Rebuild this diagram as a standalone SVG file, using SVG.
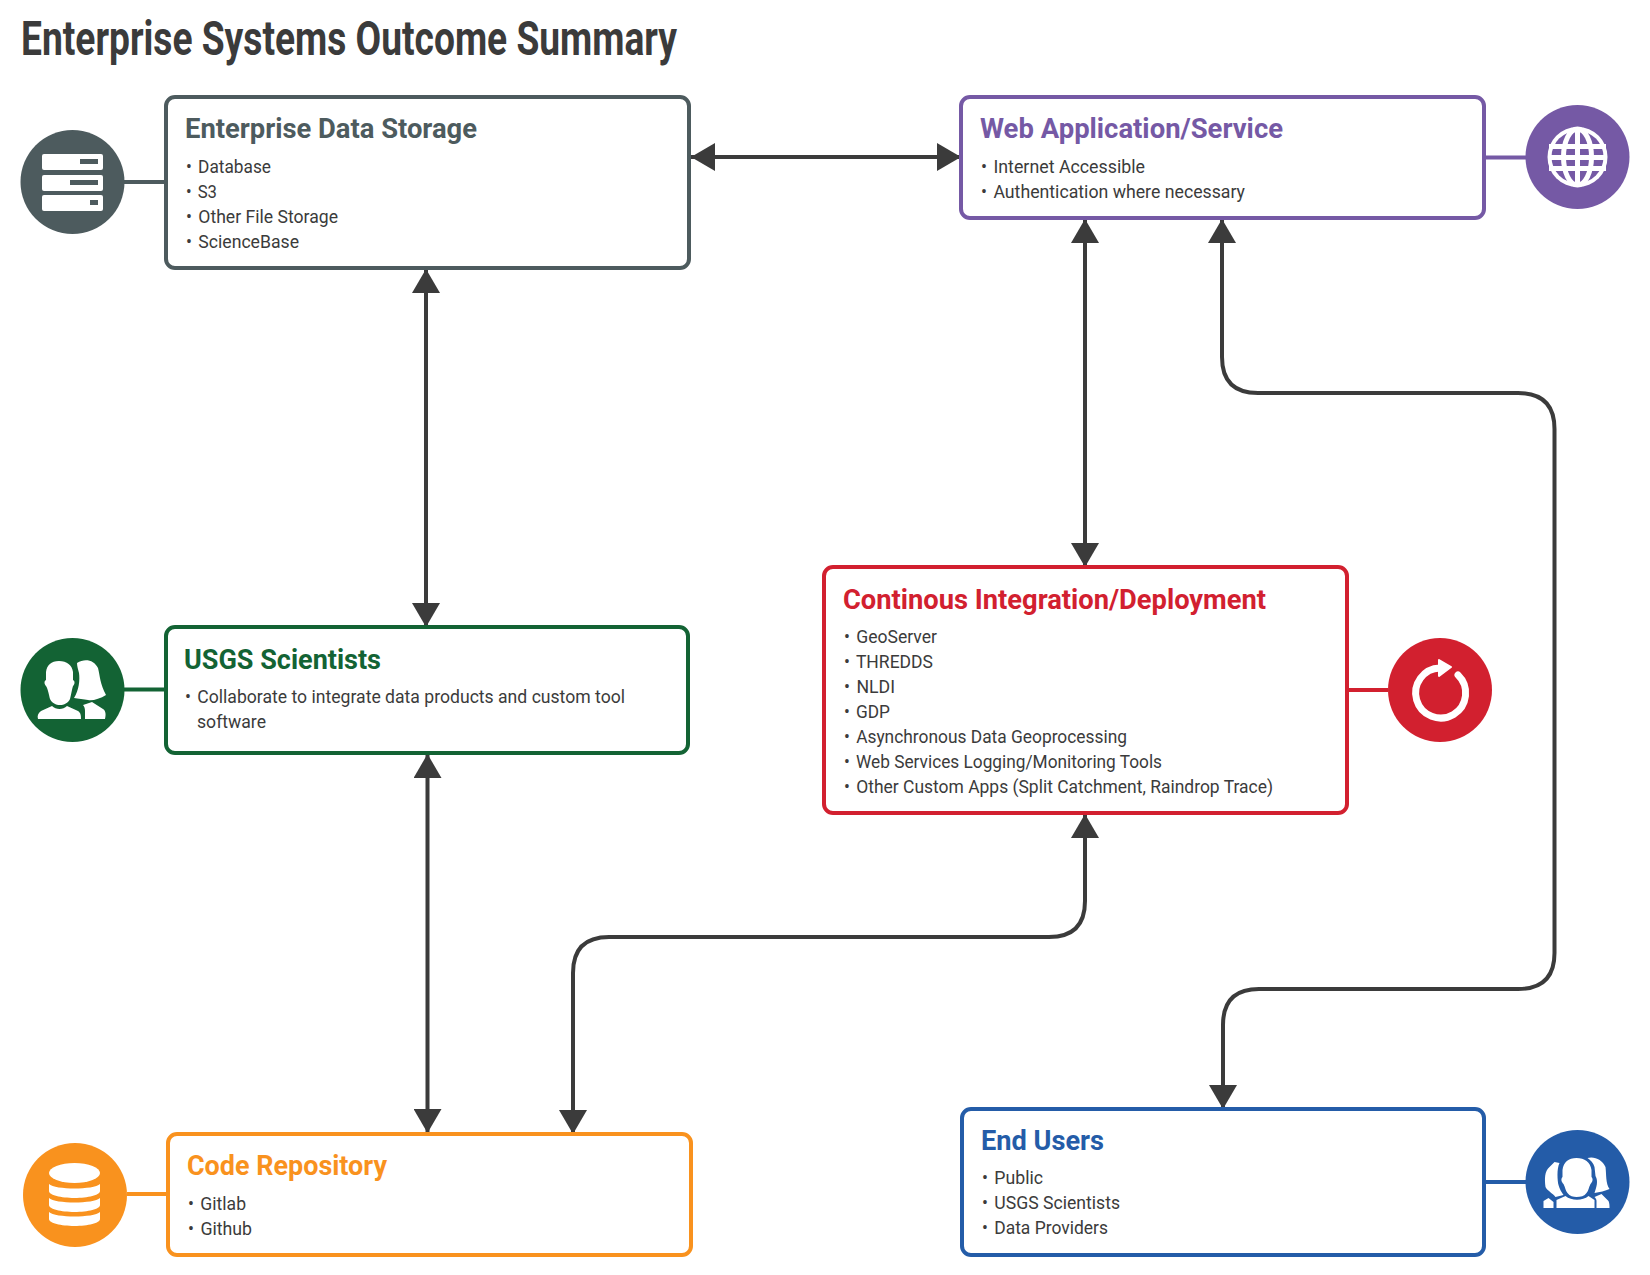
<svg xmlns="http://www.w3.org/2000/svg" width="1650" height="1275" viewBox="0 0 1650 1275">
<defs>
<style>
text{font-family:Roboto,"Liberation Sans",sans-serif}
.title{font-size:48px;font-weight:700;fill:#3b3b3b}
.h{font-size:27px;font-weight:700}
.b{font-size:17.5px;fill:#3b3b3b}
.box{fill:#fff;stroke-width:4}
.stub{stroke-width:4;fill:none}
.conn{fill:none;stroke:#3b3b3b;stroke-width:4;marker-start:url(#a);marker-end:url(#a)}
.w{fill:#fff}
</style>
<marker id="a" viewBox="0 0 24 28" refX="24" refY="14" markerWidth="24" markerHeight="28" markerUnits="userSpaceOnUse" orient="auto-start-reverse"><path d="M0,0L24,14L0,28Z" fill="#3b3b3b"/></marker>
</defs>
<rect width="1650" height="1275" fill="#fff"/>
<text class="title" x="21" y="55" textLength="656" lengthAdjust="spacingAndGlyphs">Enterprise Systems Outcome Summary</text>
<g id="connectors">
<path class="conn" d="M691,157H961"/>
<path class="conn" d="M426,269V627"/>
<path class="conn" d="M427.500,754V1133"/>
<path class="conn" d="M1085,219V567"/>
<path class="conn" d="M1222,219V357Q1222,393 1258,393H1518Q1554.500,393 1554.500,429V953Q1554.500,989 1518,989H1259Q1223,989 1223,1025V1109"/>
<path class="conn" d="M1085,814V901Q1085,937 1049,937H609Q573,937 573,973V1134"/>
</g>
<g id="storage">
<path class="stub" stroke="#4d5b5e" d="M124,182H166"/>
<circle cx="72.500" cy="182" r="52" fill="#4d5b5e"/>
<rect class="w" x="42" y="154" width="61" height="16" rx="2"/><rect class="w" x="42" y="175" width="61" height="16" rx="2"/><rect class="w" x="42" y="195" width="61" height="16" rx="2"/>
<path fill="#4d5b5e" d="M80,159h18v5h-18zM70,180h28v5h-28zM90,200h8v5h-8z"/>
<rect class="box" stroke="#4d5b5e" x="166" y="97" width="523" height="171" rx="9"/>
<text class="h" fill="#4d5b5e" x="185" y="138" textLength="292" lengthAdjust="spacingAndGlyphs">Enterprise Data Storage</text>
<text class="b" x="186" y="172.500" textLength="85" lengthAdjust="spacingAndGlyphs">•<tspan dx="2"> Database</tspan></text>
<text class="b" x="186" y="197.500" textLength="31" lengthAdjust="spacingAndGlyphs">•<tspan dx="2"> S3</tspan></text>
<text class="b" x="186" y="222.500" textLength="152" lengthAdjust="spacingAndGlyphs">•<tspan dx="2"> Other File Storage</tspan></text>
<text class="b" x="186" y="247.500" textLength="113" lengthAdjust="spacingAndGlyphs">•<tspan dx="2"> ScienceBase</tspan></text>
</g>
<g id="web">
<path class="stub" stroke="#7559a5" d="M1484,157.500H1526"/>
<circle cx="1577.500" cy="157" r="52" fill="#7559a5"/>
<circle class="w" cx="1577.500" cy="157" r="30"/>
<circle cx="1577.500" cy="157" r="26" fill="#7559a5"/>
<path fill="none" stroke="#fff" stroke-width="5" d="M1577.500,128V186M1549,146.500H1606M1549,157.500H1606M1549,168.500H1606"/>
<ellipse cx="1577.500" cy="157" rx="14" ry="28" fill="none" stroke="#fff" stroke-width="5"/>
<rect class="box" stroke="#7559a5" x="961" y="97" width="523" height="121" rx="9"/>
<text class="h" fill="#7559a5" x="980" y="138" textLength="303" lengthAdjust="spacingAndGlyphs">Web Application/Service</text>
<text class="b" x="981" y="172.500" textLength="164" lengthAdjust="spacingAndGlyphs">•<tspan dx="2"> Internet Accessible</tspan></text>
<text class="b" x="981" y="197.500" textLength="264" lengthAdjust="spacingAndGlyphs">•<tspan dx="2"> Authentication where necessary</tspan></text>
</g>
<g id="ci">
<path class="stub" stroke="#d2202f" d="M1347,690H1388"/>
<circle cx="1440" cy="690" r="52" fill="#d2202f"/>
<path fill="none" stroke="#fff" stroke-width="7" stroke-linecap="round" d="M1440,668A25,25 0 1 0 1458,675"/>
<path class="w" stroke="#fff" stroke-width="2" stroke-linejoin="round" d="M1439,660L1451,667L1439,676Z"/>
<rect class="box" stroke="#d2202f" x="824" y="567" width="523" height="246" rx="9"/>
<text class="h" fill="#d2202f" x="843" y="608.500" textLength="423" lengthAdjust="spacingAndGlyphs">Continous Integration/Deployment</text>
<text class="b" x="844" y="642.500" textLength="93" lengthAdjust="spacingAndGlyphs">•<tspan dx="2"> GeoServer</tspan></text>
<text class="b" x="844" y="667.500" textLength="89" lengthAdjust="spacingAndGlyphs">•<tspan dx="2"> THREDDS</tspan></text>
<text class="b" x="844" y="692.500" textLength="51" lengthAdjust="spacingAndGlyphs">•<tspan dx="2"> NLDI</tspan></text>
<text class="b" x="844" y="717.500" textLength="46" lengthAdjust="spacingAndGlyphs">•<tspan dx="2"> GDP</tspan></text>
<text class="b" x="844" y="742.500" textLength="283" lengthAdjust="spacingAndGlyphs">•<tspan dx="2"> Asynchronous Data Geoprocessing</tspan></text>
<text class="b" x="844" y="767.500" textLength="318" lengthAdjust="spacingAndGlyphs">•<tspan dx="2"> Web Services Logging/Monitoring Tools</tspan></text>
<text class="b" x="844" y="792.500" textLength="429" lengthAdjust="spacingAndGlyphs">•<tspan dx="2"> Other Custom Apps (Split Catchment, Raindrop Trace)</tspan></text>
</g>
<g id="usgs">
<path class="stub" stroke="#136334" d="M124,689.500H166"/>
<circle cx="72.500" cy="690" r="52" fill="#136334"/>
<g id="usgs-icon" class="w">
<path d="M59,661C51,661 47,665 46,672L46,680C44,681 44,684 46,686C48,689 49,695 50,699C52,703 56,705 60,705C64,705 68,703 70,699C71,695 72,689 73,686C75,684 75,681 73,680L73,672C72,665 67,661 59,661Z"/>
<path d="M38,719C37,716 38,713 41,711L52,706C56,710 63,710 67,706L78,711C81,713 81,716 81,719Z"/>
<path d="M77,663C85,658 94,660 98,668C100,676 100,684 106,695C100,699 92,701 88,700C84,699 78,699 74,698C79,690 80,680 79,673C78,669 77,666 77,663Z"/>
<path d="M85,719L85,711C85,708 84,706 83,705L92,702L103,709C106,711 106,715 105,719Z"/>
</g>
<rect class="box" stroke="#136334" x="166" y="627" width="522" height="126" rx="9"/>
<text class="h" fill="#136334" x="184" y="669" textLength="197" lengthAdjust="spacingAndGlyphs">USGS Scientists</text>
<text class="b" x="185" y="702.500" textLength="440" lengthAdjust="spacingAndGlyphs">•<tspan dx="2"> Collaborate to integrate data products and custom tool</tspan></text>
<text class="b" x="197" y="727.500" textLength="69" lengthAdjust="spacingAndGlyphs">software</text>
</g>
<g id="code">
<path class="stub" stroke="#f9921e" d="M127,1194H168"/>
<circle cx="75" cy="1195" r="52" fill="#f9921e"/>
<ellipse class="w" cx="74.500" cy="1173" rx="25.500" ry="10"/>
<path class="w" d="M49,1184C55,1190 94,1190 100,1184L100,1191C100,1195 88,1198 74.500,1198C61,1198 49,1195 49,1191Z"/>
<path class="w" transform="translate(0,14)" d="M49,1184C55,1190 94,1190 100,1184L100,1191C100,1195 88,1198 74.500,1198C61,1198 49,1195 49,1191Z"/>
<path class="w" transform="translate(0,28)" d="M49,1184C55,1190 94,1190 100,1184L100,1191C100,1195 88,1198 74.500,1198C61,1198 49,1195 49,1191Z"/>
<rect class="box" stroke="#f9921e" x="168" y="1134" width="523" height="121" rx="9"/>
<text class="h" fill="#f9921e" x="187" y="1175" textLength="200" lengthAdjust="spacingAndGlyphs">Code Repository</text>
<text class="b" x="188" y="1210" textLength="58" lengthAdjust="spacingAndGlyphs">•<tspan dx="2"> Gitlab</tspan></text>
<text class="b" x="188" y="1235" textLength="64" lengthAdjust="spacingAndGlyphs">•<tspan dx="2"> Github</tspan></text>
</g>
<g id="end">
<path class="stub" stroke="#245ca8" d="M1484,1182H1526"/>
<circle cx="1577.500" cy="1182" r="52" fill="#245ca8"/>
<g class="w" transform="translate(-0.5,1)">
<path d="M1577,1157C1569,1157 1564,1161 1563,1169L1563,1176C1561,1178 1562,1181 1564,1183C1566,1187 1566,1190 1568,1192C1570,1195 1574,1196 1577,1196C1581,1196 1585,1195 1587,1192C1589,1190 1589,1187 1591,1183C1593,1181 1594,1178 1592,1176L1592,1169C1591,1161 1585,1157 1577,1157Z"/>
<path d="M1557,1207L1557,1199L1566,1195C1572,1200 1583,1200 1589,1195L1595,1199L1595,1207Z"/>
<path d="M1555,1161L1560,1162C1557,1168 1558,1180 1559,1184C1560,1188 1562,1191 1564,1194L1556,1196C1553,1192 1548,1190 1546,1186C1545,1178 1545,1170 1550,1166Z"/>
<path d="M1544,1207L1544,1200L1549,1197L1554,1201L1554,1207Z"/>
<path d="M1588,1157C1595,1155 1603,1159 1606,1166C1607,1174 1606,1182 1610,1188C1606,1190 1600,1191 1595,1192C1597,1186 1599,1180 1596,1175L1595,1166C1594,1162 1591,1159 1588,1157Z"/>
<path d="M1597,1207L1597,1200C1597,1198 1596,1197 1595,1196L1602,1193L1609,1200C1610,1202 1610,1205 1610,1207Z"/>
</g>
<rect class="box" stroke="#245ca8" x="962" y="1109" width="522" height="146" rx="9"/>
<text class="h" fill="#245ca8" x="981" y="1150" textLength="123" lengthAdjust="spacingAndGlyphs">End Users</text>
<text class="b" x="982" y="1184" textLength="61" lengthAdjust="spacingAndGlyphs">•<tspan dx="2"> Public</tspan></text>
<text class="b" x="982" y="1209" textLength="138" lengthAdjust="spacingAndGlyphs">•<tspan dx="2"> USGS Scientists</tspan></text>
<text class="b" x="982" y="1234" textLength="126" lengthAdjust="spacingAndGlyphs">•<tspan dx="2"> Data Providers</tspan></text>
</g>
</svg>
